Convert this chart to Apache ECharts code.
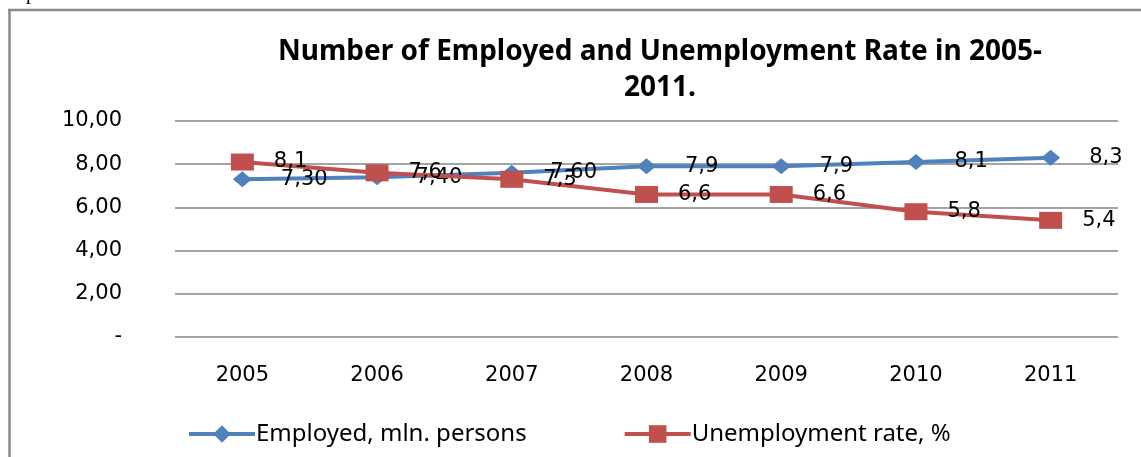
<!DOCTYPE html>
<html>
<head>
<meta charset="utf-8">
<script src="https://cdn.jsdelivr.net/npm/echarts@6/dist/echarts.min.js"></script>
<style>
html,body{margin:0;padding:0;background:#fff;}
#chart{width:1141px;height:457px;}
</style>
</head>
<body>
<div id="chart"></div>
<script>
var years = ['2005', '2006', '2007', '2008', '2009', '2010', '2011'];
var employed = [7.30, 7.40, 7.60, 7.9, 7.9, 8.1, 8.3];
var employedLabels = ['7,30', '7,40', '7,60', '7,9', '7,9', '8,1', '8,3'];
var unemployment = [8.1, 7.6, 7.3, 6.6, 6.6, 5.8, 5.4];
var unemploymentLabels = ['8,1', '7,6', '7,3', '6,6', '6,6', '5,8', '5,4'];

var chart = echarts.init(document.getElementById('chart'));
chart.setOption({
  animation: false,
  backgroundColor: '#fff',
  title: {
    text: 'Number of Employed and Unemployment Rate in 2005-\n2011.',
    left: 655,
    top: 29,
    textAlign: 'center',
    textStyle: {fontFamily: 'Noto Sans', fontWeight: 'bold', fontSize: 28, lineHeight: 36, color: '#000'}
  },
  graphic: [
    {type: 'line', shape: {x1: 9.5, y1: 10, x2: 9.5, y2: 457}, style: {stroke: '#8a8a8a', lineWidth: 2.5}},
    {type: 'line', shape: {x1: 8, y1: 10, x2: 1141, y2: 10}, style: {stroke: '#8a8a8a', lineWidth: 2.5}},
    {type: 'text', left: -4, top: -16, style: {text: 'Graph 1.', font: '20px "Liberation Serif"', fill: '#000'}}
  ],
  legend: {
    left: 182,
    top: 417,
    itemWidth: 66,
    itemHeight: 22,
    itemGap: 96,
    lineStyle: {width: 4},
    textStyle: {fontFamily: 'Noto Sans', fontSize: 24, color: '#000', padding: [0, 0, 0, -4]},
    data: ['Employed, mln. persons', 'Unemployment rate, %']
  },
  grid: {left: 175, right: 23, top: 121, bottom: 120, containLabel: false},
  xAxis: {
    type: 'category',
    data: years,
    boundaryGap: true,
    axisLine: {show: false},
    axisTick: {show: false},
    axisLabel: {margin: 28, color: '#000', fontFamily: 'DejaVu Sans', fontSize: 21}
  },
  yAxis: {
    type: 'value',
    min: 0,
    max: 10,
    interval: 2,
    axisLine: {show: false},
    axisTick: {show: false},
    splitLine: {lineStyle: {color: '#868686', width: 1.5}},
    axisLabel: {
      margin: 53,
      color: '#000',
      fontFamily: 'DejaVu Sans',
      fontSize: 21,
      formatter: function (v) { return v === 0 ? '-' : v.toFixed(2).replace('.', ','); }
    }
  },
  series: [
    {
      name: 'Employed, mln. persons',
      type: 'line',
      data: employed,
      symbol: 'diamond',
      symbolSize: [19, 16],
      lineStyle: {color: '#4F81BD', width: 4},
      itemStyle: {color: '#4F81BD'},
      label: {
        show: true, position: 'right', distance: 29,
        formatter: function (p) { return employedLabels[p.dataIndex]; },
        color: '#000', fontFamily: 'DejaVu Sans', fontSize: 21
      },
      labelLayout: {hideOverlap: false},
      z: 3
    },
    {
      name: 'Unemployment rate, %',
      type: 'line',
      data: unemployment,
      symbol: 'rect',
      symbolSize: [23, 17],
      lineStyle: {color: '#C0504D', width: 4},
      itemStyle: {color: '#C0504D'},
      label: {
        show: true, position: 'right', distance: 20,
        formatter: function (p) { return unemploymentLabels[p.dataIndex]; },
        color: '#000', fontFamily: 'DejaVu Sans', fontSize: 21
      },
      labelLayout: {hideOverlap: false},
      z: 4
    }
  ]
});
</script>
</body>
</html>
